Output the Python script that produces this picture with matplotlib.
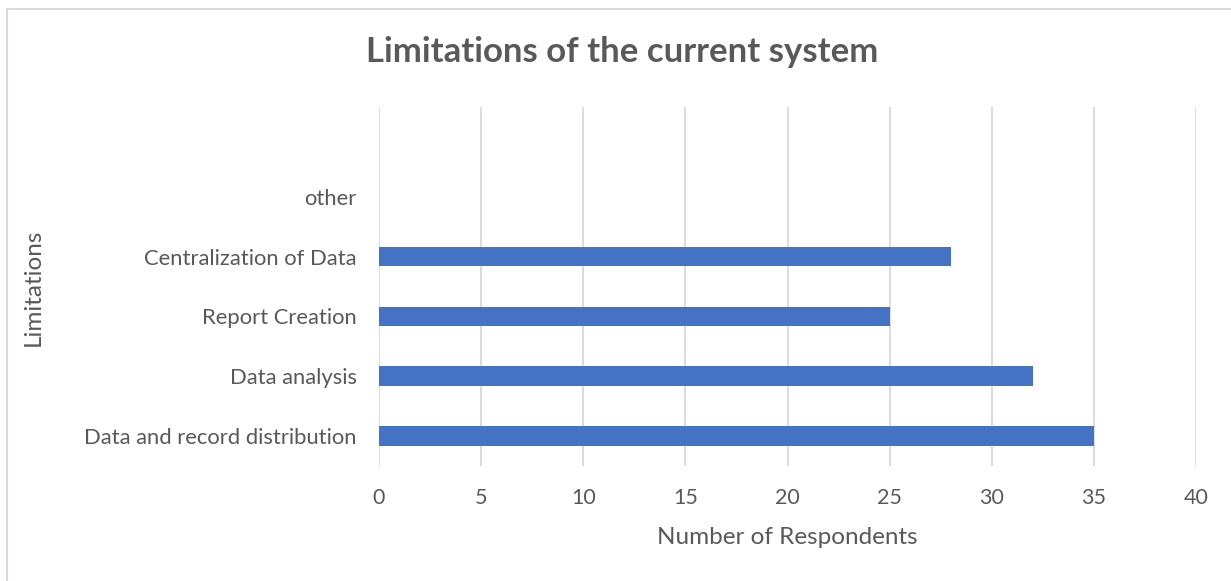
import matplotlib.pyplot as plt
from matplotlib.patches import Rectangle

# dados
categorias = ['Data and record distribution', 'Data analysis', 'Report Creation',
              'Centralization of Data', 'other']
respondentes = [35, 32, 25, 28, 0]
xticks = [0, 5, 10, 15, 20, 25, 30, 35, 40]

cor_barra = '#4472C4'
cor_texto = '#595959'
cor_grade = '#D9D9D9'

plt.rcParams['font.family'] = ['Lato', 'DejaVu Sans']

W, H = 1231, 581
fig = plt.figure(figsize=(W/100, H/100), dpi=100)
ax = fig.add_axes([379/W, 1-466/H, (1196-379)/W, (466-107)/H])

pos = list(range(len(categorias)))
ax.barh(pos, respondentes, height=0.33, color=cor_barra, zorder=3)

ax.set_xlim(0, 40)
ax.set_ylim(-0.5, 5.5)
ax.set_xticks(xticks)
ax.set_xticklabels([str(t) for t in xticks], fontsize=15.5, color=cor_texto)
ax.set_yticks(pos)
ax.set_yticklabels(categorias, fontsize=15.8, color=cor_texto)
ax.tick_params(axis='both', length=0)
ax.tick_params(axis='x', pad=16)
ax.tick_params(axis='y', pad=16)

ax.grid(axis='x', color=cor_grade, linewidth=1.3, zorder=0)
for s in ax.spines.values():
    s.set_visible(False)

fig.text(787/W, 1-537/H, 'Number of Respondents', ha='center', va='center',
         fontsize=17.5, color=cor_texto)
fig.text(33/W, 1-287/H, 'Limitations', ha='center', va='center', rotation=90,
         fontsize=17.5, color=cor_texto)
fig.text(622/W, 1-52/H, 'Limitations of the current system', ha='center', va='center',
         fontsize=25, fontweight='bold', color=cor_texto)

# moldura (so topo e esquerda aparecem, o resto foi cortado)
fig.patches.append(Rectangle((7/W, -0.1), 1.2, 1-9/H+0.1, transform=fig.transFigure,
                             fill=False, edgecolor=cor_grade, linewidth=1.5))

fig.savefig('out.png', dpi=100)
